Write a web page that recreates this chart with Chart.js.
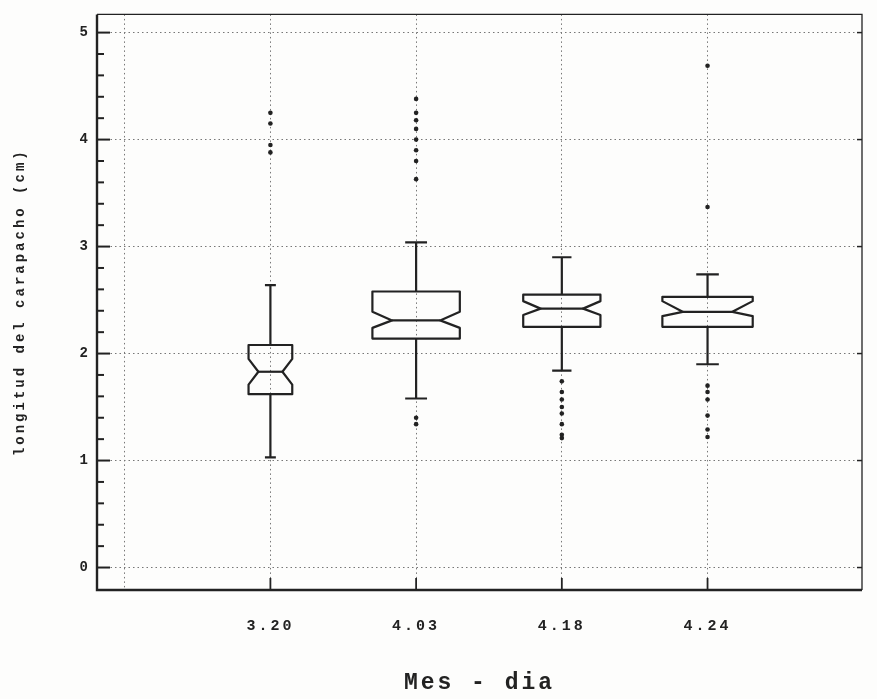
<!DOCTYPE html>
<html>
<head>
<meta charset="utf-8">
<script src="https://cdn.jsdelivr.net/npm/chart.js@4"></script>
<style>
  html, body { margin: 0; padding: 0; background: #fdfdfc; }
  #wrap { width: 877px; height: 699px; }
</style>
</head>
<body>
<div id="wrap"><canvas id="box-chart"></canvas></div>
<script>
// categories (Mes - dia)
const categories = ['3.20', '4.03', '4.18', '4.24'];

// box plot statistics (cm)
const whiskerLow  = [1.03, 1.58, 1.84, 1.90];
const q1          = [1.62, 2.14, 2.25, 2.25];
const median      = [1.83, 2.31, 2.42, 2.39];
const q3          = [2.08, 2.58, 2.55, 2.53];
const whiskerHigh = [2.64, 3.04, 2.90, 2.74];
const notchLow    = [1.71, 2.24, 2.36, 2.35];
const notchHigh   = [1.95, 2.39, 2.49, 2.49];

// outliers per category
const outliers = [
    [4.25, 4.15, 3.95, 3.88],
    [4.38, 4.25, 4.18, 4.10, 4.00, 3.90, 3.80, 3.63, 1.40, 1.34],
    [1.74, 1.64, 1.57, 1.50, 1.44, 1.34, 1.24, 1.21],
    [4.69, 3.37, 1.70, 1.64, 1.57, 1.42, 1.29, 1.22]
];

// y axis tick values
const yTicks = [0, 1, 2, 3, 4, 5];

// relative box widths (variable width boxes)
const boxWidths = [0.30, 0.60, 0.53, 0.62];

const ink = '#222';
const mono = "'Liberation Mono', 'DejaVu Sans Mono', monospace";

function start() {
    const outlierPoints = [];
    outliers.forEach((list, i) => {
        list.forEach(v => outlierPoints.push({ x: i + 1, y: v }));
    });

    // letter spacing for the wide typewriter look
    const spacing = {
        id: 'spacing',
        beforeLayout(chart) { chart.ctx.letterSpacing = '3px'; },
        beforeDraw(chart) { chart.ctx.letterSpacing = '3px'; }
    };

    // frame and inward ticks
    const frame = {
        id: 'frame',
        afterDatasetsDraw(chart) {
            const { ctx, chartArea: a, scales: { x, y } } = chart;
            ctx.save();
            ctx.letterSpacing = '0px';
            ctx.strokeStyle = ink;
            ctx.lineCap = 'butt';

            // thin top and right
            ctx.lineWidth = 1.3;
            ctx.beginPath();
            ctx.moveTo(a.left, a.top);
            ctx.lineTo(a.right, a.top);
            ctx.lineTo(a.right, a.bottom);
            ctx.stroke();

            // heavy left and bottom
            ctx.lineWidth = 2.4;
            ctx.beginPath();
            ctx.moveTo(a.left, a.top);
            ctx.lineTo(a.left, a.bottom);
            ctx.lineTo(a.right, a.bottom);
            ctx.stroke();

            // y ticks: major and minor, pointing inward
            ctx.lineWidth = 2;
            for (let k = 0; k <= 25; k++) {
                const v = k * 0.2;
                const py = y.getPixelForValue(v);
                const len = (k % 5 === 0) ? 13 : 7;
                ctx.beginPath();
                ctx.moveTo(a.left, py);
                ctx.lineTo(a.left + len, py);
                ctx.stroke();
            }
            // right side ticks at majors
            ctx.lineWidth = 1.5;
            yTicks.forEach(v => {
                const py = y.getPixelForValue(v);
                ctx.beginPath();
                ctx.moveTo(a.right, py);
                ctx.lineTo(a.right - 5, py);
                ctx.stroke();
            });
            // bottom ticks at categories
            ctx.lineWidth = 1.8;
            categories.forEach((c, i) => {
                const px = x.getPixelForValue(i + 1);
                ctx.beginPath();
                ctx.moveTo(px, a.bottom);
                ctx.lineTo(px, a.bottom - 12);
                ctx.stroke();
            });
            ctx.restore();
        }
    };

    // notched box plots drawn through the scales
    const boxes = {
        id: 'boxes',
        afterDatasetsDraw(chart) {
            const { ctx, scales: { x, y } } = chart;
            ctx.save();
            ctx.strokeStyle = ink;
            ctx.lineWidth = 2.2;
            ctx.lineJoin = 'round';
            categories.forEach((c, i) => {
                const cx = x.getPixelForValue(i + 1);
                const hw = x.getPixelForValue(i + 1 + boxWidths[i] / 2) - cx;
                const nw = hw * 0.55;
                const cap = hw / 4;
                const yq1 = y.getPixelForValue(q1[i]);
                const yq3 = y.getPixelForValue(q3[i]);
                const ym = y.getPixelForValue(median[i]);
                const ynl = y.getPixelForValue(notchLow[i]);
                const ynh = y.getPixelForValue(notchHigh[i]);
                const ywl = y.getPixelForValue(whiskerLow[i]);
                const ywh = y.getPixelForValue(whiskerHigh[i]);

                // box outline with notch
                ctx.beginPath();
                ctx.moveTo(cx - hw, yq3);
                ctx.lineTo(cx + hw, yq3);
                ctx.lineTo(cx + hw, ynh);
                ctx.lineTo(cx + nw, ym);
                ctx.lineTo(cx + hw, ynl);
                ctx.lineTo(cx + hw, yq1);
                ctx.lineTo(cx - hw, yq1);
                ctx.lineTo(cx - hw, ynl);
                ctx.lineTo(cx - nw, ym);
                ctx.lineTo(cx - hw, ynh);
                ctx.closePath();
                ctx.stroke();

                // median
                ctx.beginPath();
                ctx.moveTo(cx - nw, ym);
                ctx.lineTo(cx + nw, ym);
                ctx.stroke();

                // whiskers and caps
                ctx.beginPath();
                ctx.moveTo(cx, yq3);
                ctx.lineTo(cx, ywh);
                ctx.moveTo(cx - cap, ywh);
                ctx.lineTo(cx + cap, ywh);
                ctx.moveTo(cx, yq1);
                ctx.lineTo(cx, ywl);
                ctx.moveTo(cx - cap, ywl);
                ctx.lineTo(cx + cap, ywl);
                ctx.stroke();
            });
            ctx.restore();
        }
    };

    const ctx = document.getElementById('box-chart').getContext('2d');
    new Chart(ctx, {
        type: 'scatter',
        data: {
            datasets: [{
                label: 'outliers',
                data: outlierPoints,
                pointRadius: 2.3,
                pointBorderWidth: 0,
                backgroundColor: ink,
                borderColor: ink
            }]
        },
        options: {
            responsive: true,
            maintainAspectRatio: false,
            animation: false,
            events: [],
            layout: { padding: { top: 12, right: 15, left: 0, bottom: 0 } },
            plugins: {
                legend: { display: false },
                tooltip: { enabled: false }
            },
            scales: {
                x: {
                    type: 'linear',
                    min: -0.19,
                    max: 5.06,
                    afterBuildTicks: (scale) => {
                        scale.ticks = [0, 1, 2, 3, 4].map(v => ({ value: v }));
                    },
                    afterFit: (scale) => { scale.height = 109; },
                    grid: { color: '#777', lineWidth: 1, drawTicks: false },
                    border: { display: false, dash: [1.5, 3] },
                    ticks: {
                        padding: 27,
                        color: ink,
                        font: { family: mono, size: 15, weight: 'bold' },
                        callback: (v) => categories[v - 1] || ''
                    },
                    title: {
                        display: true,
                        text: 'Mes - dia',
                        color: ink,
                        font: { family: mono, size: 23, weight: 'bold' },
                        padding: { top: 0, bottom: 2 }
                    }
                },
                y: {
                    min: -0.21,
                    max: 5.17,
                    afterBuildTicks: (scale) => {
                        scale.ticks = yTicks.map(v => ({ value: v }));
                    },
                    afterFit: (scale) => { scale.width = 97; },
                    grid: { color: '#777', lineWidth: 1, drawTicks: false },
                    border: { display: false, dash: [1.5, 3] },
                    ticks: {
                        padding: 6,
                        color: ink,
                        font: { family: mono, size: 14, weight: 'bold' }
                    },
                    title: {
                        display: true,
                        text: 'longitud del carapacho (cm)',
                        color: ink,
                        font: { family: mono, size: 14, weight: 'bold' },
                        padding: { top: 12, bottom: 0 }
                    }
                }
            }
        },
        plugins: [spacing, boxes, frame]
    });
}

window.addEventListener('load', start, false);
</script>
</body>
</html>
